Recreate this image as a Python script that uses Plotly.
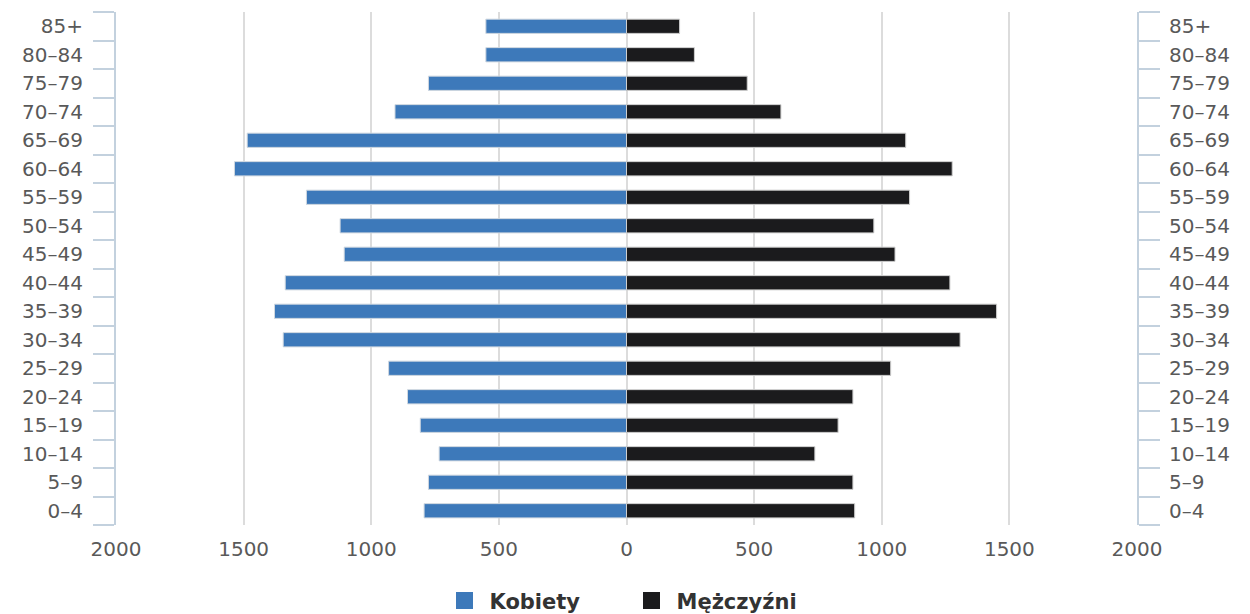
import plotly.graph_objects as go

age_groups = ["0–4", "5–9", "10–14", "15–19", "20–24", "25–29", "30–34", "35–39",
              "40–44", "45–49", "50–54", "55–59", "60–64", "65–69", "70–74",
              "75–79", "80–84", "85+"]
kobiety = [793, 776, 734, 808, 858, 932, 1345, 1379, 1337, 1106, 1122, 1254,
           1536, 1486, 907, 776, 551, 551]
mezczyzni = [894, 887, 738, 829, 887, 1035, 1307, 1450, 1267, 1052, 969, 1109,
             1276, 1094, 605, 473, 266, 208]
x_tickvals = [-2000, -1500, -1000, -500, 0, 500, 1000, 1500, 2000]
x_ticktext = ["2000", "1500", "1000", "500", "0", "500", "1000", "1500", "2000"]

FONT = "DejaVu Sans"
TICKCOL = "#595959"
AXCOL = "#c3d1de"
BLUE = "#3d79ba"
BLACK = "#1b1b1d"

fig = go.Figure()
fig.add_trace(go.Bar(
    y=age_groups, x=[-v for v in kobiety], orientation="h", name="Kobiety",
    width=0.5, marker=dict(color=BLUE, line=dict(color="#d0d8e0", width=1)),
    yaxis="y", hoverinfo="skip", showlegend=False))
fig.add_trace(go.Bar(
    y=age_groups, x=mezczyzni, orientation="h", name="Mężczyźni",
    width=0.5, marker=dict(color=BLACK, line=dict(color="#cfcfcf", width=1)),
    yaxis="y2", hoverinfo="skip", showlegend=False))
# legend entries (larger swatches)
for nm, col in [("Kobiety", BLUE), ("Mężczyźni", BLACK)]:
    fig.add_trace(go.Bar(y=[None], x=[None], orientation="h", name=nm,
                         marker=dict(color=col, line=dict(color=col, width=5)),
                         showlegend=True, hoverinfo="skip"))

yax = dict(type="category", categoryorder="array", categoryarray=age_groups,
           range=[-0.5, len(age_groups) - 0.5], tickson="boundaries",
           ticks="outside", ticklen=21, tickwidth=1.5, tickcolor=AXCOL,
           showline=True, linecolor=AXCOL, linewidth=2, showgrid=False,
           tickfont=dict(family=FONT, size=20, color=TICKCOL),
           automargin=False, fixedrange=True)

fig.update_layout(
    width=1242, height=606,
    margin=dict(l=108, r=113, t=4, b=89, autoexpand=False),
    paper_bgcolor="white", plot_bgcolor="white",
    barmode="overlay",
    xaxis=dict(range=[-2000, 2000], tickvals=x_tickvals, ticktext=x_ticktext,
               showgrid=True, gridcolor="#dcdcdc", gridwidth=2,
               zeroline=False, showline=False, ticks="", automargin=False,
               tickfont=dict(family=FONT, size=20, color=TICKCOL),
               ticklabelstandoff=10),
    yaxis=dict(side="left", ticklabelstandoff=27, **yax),
    yaxis2=dict(side="right", overlaying="y", ticklabelstandoff=26, **yax),
    legend=dict(orientation="h", x=0.5, xanchor="center", y=-0.148,
                yanchor="middle", font=dict(family=FONT, size=21, color="#333333",
                                            weight="bold"),
                itemwidth=40, entrywidth=132, entrywidthmode="pixels",
                traceorder="normal"),
    showlegend=True,
)

fig.write_html("out.html")
